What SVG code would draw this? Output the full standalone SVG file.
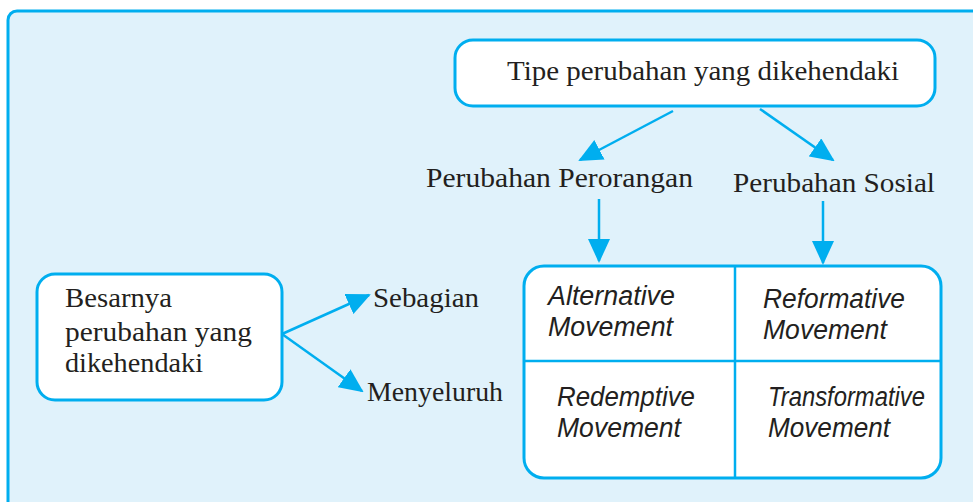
<svg xmlns="http://www.w3.org/2000/svg" width="973" height="502" viewBox="0 0 973 502">
  <style>
    .frame { fill: #e0f2fb; stroke: #00aeef; stroke-width: 3; }
    .box { fill: #ffffff; stroke: #00aeef; stroke-width: 3; }
    .div { stroke: #00aeef; stroke-width: 2.5; fill: none; }
    .link { stroke: #00aeef; stroke-width: 2.5; fill: none; marker-end: url(#head); }
    .t { font-family: "Liberation Serif", "DejaVu Serif", serif; font-size: 27px; fill: #231f20; }
    .it { font-family: "Liberation Sans", "DejaVu Sans", sans-serif; font-style: italic; font-size: 27px; fill: #231f20; }
  </style>
  <defs>
    <marker id="head" viewBox="0 0 24 22" refX="22" refY="11" markerWidth="24" markerHeight="22" markerUnits="userSpaceOnUse" orient="auto">
      <path d="M0,0 L24,11 L0,22 Z" fill="#00aeef"/>
    </marker>
  </defs>

  <!-- background panel -->
  <rect class="frame" x="8" y="11" width="990" height="520" rx="9"/>

  <g id="node-tipe">
    <rect class="box" x="455" y="40" width="480" height="66" rx="18"/>
    <text class="t" x="507" y="80" textLength="392" lengthAdjust="spacingAndGlyphs">Tipe perubahan yang dikehendaki</text>
  </g>

  <g id="node-perorangan">
    <text class="t" x="426" y="187" textLength="267" lengthAdjust="spacingAndGlyphs">Perubahan Perorangan</text>
  </g>

  <g id="node-sosial">
    <text class="t" x="733" y="192" textLength="202" lengthAdjust="spacingAndGlyphs">Perubahan Sosial</text>
  </g>

  <g id="node-besarnya">
    <rect class="box" x="37" y="274" width="245" height="126" rx="18"/>
    <text class="t" x="65" y="307" textLength="107" lengthAdjust="spacingAndGlyphs">Besarnya</text>
    <text class="t" x="65" y="341" textLength="187" lengthAdjust="spacingAndGlyphs">perubahan yang</text>
    <text class="t" x="65" y="372" textLength="138" lengthAdjust="spacingAndGlyphs">dikehendaki</text>
  </g>

  <g id="node-sebagian">
    <text class="t" x="373" y="307" textLength="106" lengthAdjust="spacingAndGlyphs">Sebagian</text>
  </g>

  <g id="node-menyeluruh">
    <text class="t" x="367" y="401" textLength="136" lengthAdjust="spacingAndGlyphs">Menyeluruh</text>
  </g>

  <g id="node-grid">
    <rect class="box" x="524" y="266" width="417" height="212" rx="20"/>
    <line class="div" x1="735" y1="266" x2="735" y2="478"/>
    <line class="div" x1="524" y1="361" x2="941" y2="361"/>
    <g id="cell-alternative">
      <text class="it" x="548" y="305" textLength="127" lengthAdjust="spacingAndGlyphs">Alternative</text>
      <text class="it" x="548" y="336" textLength="125" lengthAdjust="spacingAndGlyphs">Movement</text>
    </g>
    <g id="cell-reformative">
      <text class="it" x="763" y="308" textLength="142" lengthAdjust="spacingAndGlyphs">Reformative</text>
      <text class="it" x="763" y="339" textLength="124" lengthAdjust="spacingAndGlyphs">Movement</text>
    </g>
    <g id="cell-redemptive">
      <text class="it" x="557" y="406" textLength="138" lengthAdjust="spacingAndGlyphs">Redemptive</text>
      <text class="it" x="557" y="437" textLength="124" lengthAdjust="spacingAndGlyphs">Movement</text>
    </g>
    <g id="cell-transformative">
      <text class="it" x="768" y="406" textLength="157" lengthAdjust="spacingAndGlyphs">Transformative</text>
      <text class="it" x="768" y="437" textLength="122" lengthAdjust="spacingAndGlyphs">Movement</text>
    </g>
  </g>

  <g id="connectors">
    <line class="link" x1="673" y1="111" x2="580" y2="160"/>
    <line class="link" x1="760" y1="109" x2="833" y2="160"/>
    <line class="link" x1="599" y1="199" x2="599" y2="261"/>
    <line class="link" x1="823" y1="201" x2="823" y2="263"/>
    <line class="link" x1="282" y1="334" x2="369" y2="295"/>
    <line class="link" x1="282" y1="334" x2="362" y2="391"/>
  </g>
</svg>
